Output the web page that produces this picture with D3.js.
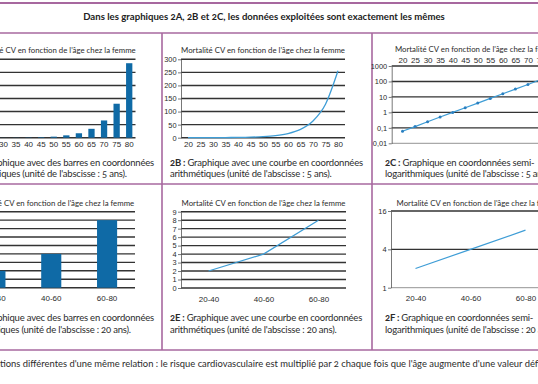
<!DOCTYPE html>
<html>
<head>
<meta charset="utf-8">
<script src="https://cdn.jsdelivr.net/npm/d3@7"></script>
<style>
  html, body { margin: 0; padding: 0; background: #fff; overflow: hidden; }
  svg { display: block; font-family: Lato, "Open Sans", sans-serif; font-variant-numeric: oldstyle-nums; }
</style>
</head>
<body>
<svg id="chart" width="538" height="384"></svg>
<script>
// ---- data ----
var ages = [20, 25, 30, 35, 40, 45, 50, 55, 60, 65, 70, 75, 80];
var barsA = [0.06, 0.12, 0.25, 0.5, 1, 2, 4, 9, 17, 34, 66, 130, 285];
var mortality = [0.06, 0.12, 0.25, 0.5, 1, 2, 4, 8, 16, 32, 64, 128, 256];
var groups = ["20-40", "40-60", "60-80"];
var mortality20 = [2, 4, 8];

var ticks300 = [0, 50, 100, 150, 200, 250, 300];
var ticksLog10 = [0.01, 0.1, 1, 10, 100, 1000];
var labelsLog10 = ["0,01", "0,1", "1", "10", "100", "1000"];
var ticks9 = [0, 1, 2, 3, 4, 5, 6, 7, 8, 9];
var ticksLog2 = [1, 4, 16];

var mainTitle = "Dans les graphiques 2A, 2B et 2C, les données exploitées sont exactement les mêmes";
var plotTitle = "Mortalité CV en fonction de l'âge chez la femme";
var captionIds = ["2A", "2B", "2C", "2D", "2E", "2F"];
var captionLine1 = [
  "Graphique avec des barres en coordonnées",
  "Graphique avec une courbe en coordonnées",
  "Graphique en coordonnées semi-",
  "Graphique avec des barres en coordonnées",
  "Graphique avec une courbe en coordonnées",
  "Graphique en coordonnées semi-"
];
var captionLine2 = [
  "arithmétiques (unité de l'abscisse : 5 ans).",
  "arithmétiques (unité de l'abscisse : 5 ans).",
  "logarithmiques (unité de l'abscisse : 5 ans).",
  "arithmétiques (unité de l'abscisse : 20 ans).",
  "arithmétiques (unité de l'abscisse : 20 ans).",
  "logarithmiques (unité de l'abscisse : 20 ans)."
];
var footnote = "Figure 2 : Représentations différentes d'une même relation : le risque cardiovasculaire est multiplié par 2 chaque fois que l'âge augmente d'une valeur définie.";

// ---- styles ----
var purple = "#a7689f",
    barBlue = "#0f6aa6",
    lineBlue = "#3e9dd6",
    gridColor = "#333",
    textColor = "#2b2b2b";

var svg = d3.select("#chart");

// ---- frame ----
svg.append("line").attr("x1", 0).attr("x2", 538).attr("y1", 3).attr("y2", 3)
    .attr("stroke", purple).attr("stroke-width", 2);
[33, 184, 350].forEach(function(y) {
  svg.append("line").attr("x1", 0).attr("x2", 538).attr("y1", y).attr("y2", y)
      .attr("stroke", purple).attr("stroke-width", 1.6);
});
[162, 372].forEach(function(x) {
  svg.append("line").attr("x1", x).attr("x2", x).attr("y1", 33).attr("y2", 350)
      .attr("stroke", purple).attr("stroke-width", 1.6);
});

svg.append("text")
    .attr("x", 264).attr("y", 19.5)
    .attr("text-anchor", "middle")
    .attr("font-size", 9.6).attr("font-weight", "bold")
    .attr("fill", "#222")
    .text(mainTitle);

// ---- helpers ----
function drawGrid(g, y, ticks, x0, x1) {
  g.append("g").selectAll("line").data(ticks).join("line")
      .attr("x1", x0).attr("x2", x1)
      .attr("y1", function(d) { return y(d); })
      .attr("y2", function(d) { return y(d); })
      .attr("stroke", gridColor).attr("stroke-width", 1.4);
}

function drawYAxis(g, y, ticks, labels, x) {
  var ax = g.append("g")
      .attr("transform", "translate(" + x + ",0)")
      .call(d3.axisLeft(y).tickValues(ticks).tickSizeInner(3).tickSizeOuter(0).tickPadding(1.5)
          .tickFormat(function(d, i) { return labels ? labels[i] : d; }));
  ax.select(".domain").attr("stroke", "#555").attr("stroke-width", 0.8);
  ax.selectAll(".tick line").attr("stroke", "#555").attr("stroke-width", 0.8);
  ax.selectAll("text").attr("font-size", 7.4).attr("fill", textColor).attr("font-family", null);
}

function drawXLabels(g, x, y, top) {
  var axis = top ? d3.axisTop(x) : d3.axisBottom(x);
  var ax = g.append("g")
      .attr("transform", "translate(0," + y + ")")
      .call(axis.tickSize(0).tickPadding(top ? 3 : 4));
  ax.select(".domain").remove();
  ax.selectAll("text").attr("font-size", 8).attr("fill", textColor).attr("font-family", null);
  return ax;
}

function drawTitle(g, cx, y) {
  g.append("text")
      .attr("x", cx).attr("y", y)
      .attr("text-anchor", "middle")
      .attr("font-size", 7.8)
      .attr("fill", textColor)
      .text(plotTitle);
}

function drawCaption(i, x, y, endAt) {
  var t = svg.append("text").attr("y", y).attr("font-size", 9.5).attr("fill", textColor)
      .attr("letter-spacing", -0.2);
  t.append("tspan").attr("font-weight", "bold").text(captionIds[i] + " : ");
  t.append("tspan").text(captionLine1[i]);
  var t2 = svg.append("text").attr("y", y + 11.5).attr("font-size", 9.5).attr("fill", textColor)
      .attr("letter-spacing", -0.2)
      .text(captionLine2[i]);
  if (endAt !== undefined) {
    x = endAt - t.node().getComputedTextLength();
  }
  t.attr("x", x);
  t2.attr("x", x);
}

// ---- 2A : bars, 5 year steps ----
(function() {
  var g = svg.append("g");
  var x0 = -28, x1 = 135.5;
  var x = d3.scaleBand().domain(ages).range([x0, x1]).paddingInner(0.5).paddingOuter(0.25);
  var y = d3.scaleLinear().domain([0, 300]).range([137.7, 59.3]);
  drawTitle(g, (x0 + x1) / 2, 52.5);
  drawGrid(g, y, ticks300, x0, x1);
  g.selectAll("rect").data(barsA).join("rect")
      .attr("x", function(d, i) { return x(ages[i]); })
      .attr("width", x.bandwidth())
      .attr("y", function(d) { return y(d); })
      .attr("height", function(d) { return y(0) - y(d); })
      .attr("fill", barBlue);
  drawXLabels(g, x, y(0));
})();

// ---- 2B : curve, 5 year steps ----
(function() {
  var g = svg.append("g");
  var x0 = 181, x1 = 345;
  var x = d3.scaleLinear().domain([20, 80]).range([188, 338]);
  var y = d3.scaleLinear().domain([0, 300]).range([137.7, 59.3]);
  drawTitle(g, (x0 + x1) / 2, 52.5);
  drawGrid(g, y, ticks300, x0, x1);
  drawYAxis(g, y, ticks300, null, x0);
  g.append("path")
      .datum(mortality)
      .attr("fill", "none").attr("stroke", lineBlue).attr("stroke-width", 1.3)
      .attr("d", d3.line()
          .x(function(d, i) { return x(ages[i]); })
          .y(function(d) { return y(d); })
          .curve(d3.curveMonotoneX));
  drawXLabels(g, d3.scalePoint().domain(ages).range([188, 338]), y(0));
})();

// ---- 2C : semi-log, 5 year steps ----
(function() {
  var g = svg.append("g");
  var x0 = 391.7, x1 = 570;
  var x = d3.scaleLinear().domain([20, 80]).range([402.5, 553]);
  var y = d3.scaleLog().domain([0.01, 1000]).range([143.3, 66]);
  drawTitle(g, (x0 + x1) / 2 - 4, 52);
  drawGrid(g, y, ticksLog10.slice(1), x0, x1);
  g.append("line").attr("x1", x0).attr("x2", x1).attr("y1", y(0.01)).attr("y2", y(0.01))
      .attr("stroke", "#777").attr("stroke-width", 0.8);
  drawYAxis(g, y, ticksLog10, labelsLog10, x0);
  var line = d3.line()
      .x(function(d, i) { return x(ages[i]); })
      .y(function(d) { return y(d); });
  g.append("path")
      .datum(mortality)
      .attr("fill", "none").attr("stroke", lineBlue).attr("stroke-width", 1.2)
      .attr("d", line);
  g.selectAll("circle").data(mortality).join("circle")
      .attr("cx", function(d, i) { return x(ages[i]); })
      .attr("cy", function(d) { return y(d); })
      .attr("r", 1.5)
      .attr("fill", "#2a7fc0");
  drawXLabels(g, d3.scalePoint().domain(ages).range([402.5, 553]), y(1000), true);
})();

// ---- 2D : bars, 20 year steps ----
(function() {
  var g = svg.append("g");
  var x0 = -32.5, x1 = 135;
  var x = d3.scaleBand().domain(groups).range([x0, x1]).paddingInner(0.64).paddingOuter(0.32);
  var y = d3.scaleLinear().domain([0, 9]).range([287.7, 211.7]);
  drawTitle(g, (x0 + x1) / 2 + 1, 205.5);
  drawGrid(g, y, ticks9, x0, x1);
  g.selectAll("rect").data(mortality20).join("rect")
      .attr("x", function(d, i) { return x(groups[i]); })
      .attr("width", x.bandwidth())
      .attr("y", function(d) { return y(d); })
      .attr("height", function(d) { return y(0) - y(d); })
      .attr("fill", barBlue);
  drawXLabels(g, x, y(0)).selectAll("text").attr("dy", "1.2em");
})();

// ---- 2E : curve, 20 year steps ----
(function() {
  var g = svg.append("g");
  var x0 = 181, x1 = 346;
  var x = d3.scalePoint().domain(groups).range([x0, x1]).padding(0.5);
  var y = d3.scaleLinear().domain([0, 9]).range([288, 211.7]);
  drawTitle(g, (x0 + x1) / 2, 205.5);
  drawGrid(g, y, ticks9, x0, x1);
  drawYAxis(g, y, ticks9, null, x0);
  g.append("path")
      .datum(mortality20)
      .attr("fill", "none").attr("stroke", lineBlue).attr("stroke-width", 1.2)
      .attr("d", d3.line()
          .x(function(d, i) { return x(groups[i]); })
          .y(function(d) { return y(d); }));
  drawXLabels(g, x, y(0)).selectAll("text").attr("dy", "1.2em");
})();

// ---- 2F : semi-log, 20 year steps ----
(function() {
  var g = svg.append("g");
  var x0 = 391, x1 = 570;
  var x = d3.scalePoint().domain(groups).range([388, 553]).padding(0.5);
  var y = d3.scaleLog().base(2).domain([1, 16]).range([287.7, 211]);
  drawTitle(g, (x0 + x1) / 2 - 2, 205.5);
  drawGrid(g, y, [4, 16], x0, x1);
  g.append("line").attr("x1", x0).attr("x2", x1).attr("y1", y(1)).attr("y2", y(1))
      .attr("stroke", "#777").attr("stroke-width", 0.8);
  drawYAxis(g, y, ticksLog2, null, x0);
  g.append("path")
      .datum(mortality20)
      .attr("fill", "none").attr("stroke", lineBlue).attr("stroke-width", 1.2)
      .attr("d", d3.line()
          .x(function(d, i) { return x(groups[i]); })
          .y(function(d) { return y(d); }));
  drawXLabels(g, x, y(1)).selectAll("text").attr("dy", "1.2em");
})();

// ---- captions ----
drawCaption(0, 0, 165.5, 154);
drawCaption(1, 170, 165.5);
drawCaption(2, 385, 165.5);
drawCaption(3, 0, 321, 154);
drawCaption(4, 170, 321);
drawCaption(5, 385, 321);

// ---- footnote: the visible run "tions ... défi" fills the width ----
var footSize = 9.15;
var foot = svg.append("text")
    .attr("y", 367).attr("font-size", footSize).attr("fill", textColor)
    .text(footnote);
var cut = footnote.indexOf("tions différentes");
var stop = footnote.indexOf("définie") + 4;
var visible = foot.node().getSubStringLength(cut, stop - cut);
footSize = footSize * 540 / visible;
foot.attr("font-size", footSize);
foot.attr("x", -foot.node().getSubStringLength(0, cut));
</script>
</body>
</html>
